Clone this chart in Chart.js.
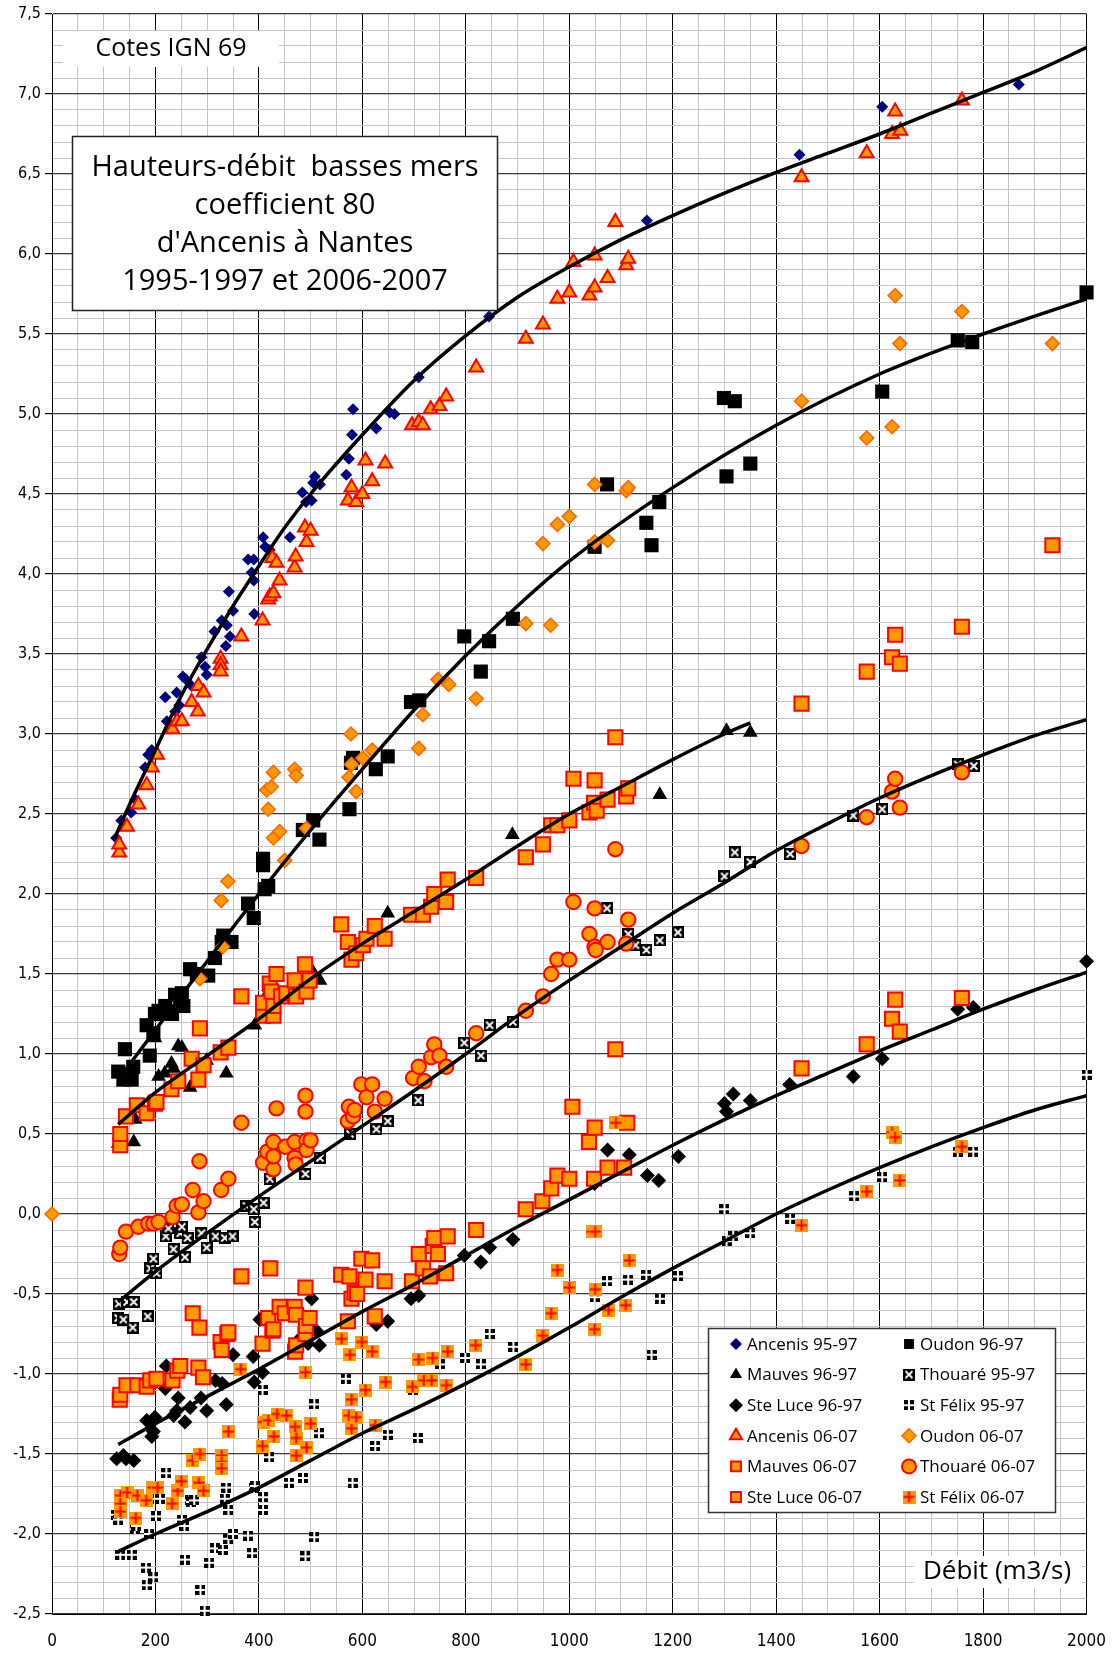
<!DOCTYPE html>
<html>
<head>
<meta charset="utf-8">
<script src="https://cdn.jsdelivr.net/npm/chart.js@4.4.1/dist/chart.umd.min.js"></script>
<style>
  html, body { margin: 0; padding: 0; background: #fff; }
  #chart { display: block; }
</style>
</head>
<body>
<canvas id="chart" width="1117" height="1655" style="width:1117px;height:1655px"></canvas>
<script>
// Axis ranges / ticks
const xMin = 0, xMax = 2000, xStep = 50, xLabelEvery = 200;
const yMin = -2.5, yMax = 7.5, yStep = 0.1, yLabelEvery = 0.5;

// Texts
const cornerNote = "Cotes IGN 69";
const titleLines = ["Hauteurs-débit  basses mers", "coefficient 80", "d'Ancenis à Nantes", "1995-1997 et 2006-2007"];
const xTitle = "Débit (m3/s)";

// Measured points [débit, cote]
const ancenis9597 = [[124,2.35],[134,2.46],[153,2.51],[161,2.59],[180,2.79],[186,2.87],[193,2.90],[219,3.23],[222,3.08],[238,3.14],[241,3.26],[246,3.18],[253,3.36],[259,3.34],[270,3.30],[289,3.48],[296,3.42],[299,3.37],[314,3.64],[328,3.71],[336,3.55],[338,3.68],[342,3.89],[344,3.61],[350,3.77],[379,4.09],[386,4.01],[390,4.09],[390,3.96],[391,3.75],[408,4.23],[412,4.17],[421,4.15],[460,4.23],[484,4.51],[491,4.45],[502,4.46],[505,4.57],[508,4.61],[518,4.56],[569,4.62],[574,4.72],[580,4.87],[582,5.03],[627,4.91],[653,5.01],[662,5.00],[709,5.23],[845,5.61],[1150,6.21],[1445,6.62],[1605,6.92],[1869,7.06]];
const oudon9697 = [[128,0.89],[138,0.84],[141,1.03],[154,0.84],[157,0.92],[183,1.18],[189,0.99],[196,1.13],[199,1.25],[206,1.27],[219,1.30],[232,1.25],[238,1.37],[248,1.34],[251,1.38],[254,1.30],[267,1.53],[280,1.50],[302,1.49],[315,1.60],[328,1.70],[331,1.74],[347,1.70],[379,1.94],[390,1.85],[408,2.22],[408,2.18],[411,2.03],[418,2.05],[485,2.40],[505,2.46],[517,2.34],[575,2.53],[578,2.82],[582,2.85],[626,2.78],[649,2.86],[694,3.20],[710,3.21],[797,3.61],[829,3.39],[845,3.58],[891,3.72],[1049,4.17],[1073,4.56],[1149,4.32],[1159,4.18],[1174,4.45],[1299,5.10],[1304,4.61],[1320,5.08],[1350,4.69],[1605,5.14],[1751,5.46],[1779,5.45],[2000,5.76]];
const mauves9697 = [[128,0.44],[158,0.45],[161,0.59],[199,1.10],[206,0.86],[218,0.88],[231,0.94],[235,0.91],[244,1.05],[251,1.04],[267,0.79],[299,0.96],[337,0.88],[392,1.18],[415,1.37],[505,1.51],[518,1.46],[649,1.88],[890,2.37],[1175,2.62],[1304,3.02],[1350,3.01]];
const thouare9597 = [[128,-0.65],[129,-0.56],[138,-0.66],[145,-0.55],[156,-0.71],[158,-0.55],[185,-0.64],[190,-0.34],[196,-0.28],[202,-0.37],[220,-0.14],[225,-0.09],[235,-0.22],[248,-0.12],[251,-0.08],[257,-0.27],[262,-0.15],[289,-0.12],[299,-0.21],[316,-0.14],[334,-0.15],[349,-0.14],[376,0.05],[390,0.03],[392,-0.05],[409,0.07],[421,0.22],[490,0.25],[518,0.35],[576,0.50],[627,0.53],[649,0.58],[708,0.71],[797,1.07],[829,0.99],[846,1.18],[891,1.20],[1073,1.91],[1114,1.75],[1128,1.68],[1149,1.65],[1175,1.71],[1210,1.76],[1300,2.11],[1320,2.26],[1350,2.20],[1427,2.25],[1549,2.49],[1605,2.53],[1751,2.81],[1782,2.80]];
const steLuce9697 = [[125,-1.53],[138,-1.51],[143,-1.53],[158,-1.54],[183,-1.29],[190,-1.31],[193,-1.39],[196,-1.36],[199,-1.27],[219,-1.09],[221,-0.95],[235,-1.26],[241,-1.23],[244,-1.15],[257,-1.30],[267,-1.21],[288,-1.15],[299,-1.23],[316,-1.04],[329,-1.06],[337,-1.19],[350,-0.88],[389,-0.89],[391,-1.05],[402,-0.66],[407,-0.99],[479,-0.78],[495,-0.81],[502,-0.53],[511,-0.73],[517,-0.82],[627,-0.69],[649,-0.67],[694,-0.53],[709,-0.51],[797,-0.26],[829,-0.30],[846,-0.21],[891,-0.16],[1049,0.19],[1074,0.40],[1116,0.37],[1151,0.24],[1173,0.21],[1211,0.36],[1300,0.69],[1304,0.64],[1317,0.75],[1350,0.71],[1426,0.81],[1549,0.86],[1605,0.97],[1751,1.28],[1781,1.29],[2000,1.58]];
const stFelix9597 = [[124,-1.88],[128,-1.91],[132,-2.13],[154,-2.13],[160,-1.97],[163,-1.95],[182,-2.21],[183,-2.32],[188,-2.00],[196,-2.27],[199,-1.78],[201,-1.89],[209,-1.78],[221,-1.62],[251,-1.91],[256,-1.95],[257,-2.16],[266,-1.79],[268,-1.80],[275,-1.79],[287,-2.35],[295,-2.48],[296,-1.73],[304,-2.18],[315,-2.09],[330,-2.10],[334,-1.78],[337,-1.71],[341,-1.85],[341,-2.03],[350,-2.00],[379,-2.01],[387,-2.12],[390,-1.71],[392,-1.70],[407,-1.10],[408,-1.85],[408,-1.77],[420,-1.52],[458,-1.68],[485,-1.65],[490,-2.14],[507,-1.19],[507,-2.02],[516,-1.37],[568,-1.03],[581,-1.68],[625,-1.45],[649,-1.38],[698,-1.10],[707,-1.40],[750,-0.94],[799,-0.90],[829,-0.94],[846,-0.75],[892,-0.83],[1049,-0.52],[1073,-0.42],[1114,-0.41],[1149,-0.38],[1159,-0.88],[1175,-0.53],[1210,-0.39],[1300,0.03],[1304,-0.17],[1317,-0.14],[1350,-0.12],[1427,-0.03],[1551,0.11],[1605,0.23],[1751,0.39],[1781,0.39],[2000,0.87]];
const ancenis0607 = [[130,2.26],[130,2.31],[145,2.42],[167,2.56],[183,2.68],[193,2.79],[203,2.87],[233,3.03],[242,3.08],[251,3.08],[270,3.20],[282,3.14],[283,3.30],[293,3.26],[326,3.47],[326,3.43],[326,3.39],[366,3.61],[407,3.71],[418,3.84],[421,3.86],[428,3.88],[426,4.10],[434,4.07],[440,3.96],[469,4.04],[471,4.11],[489,4.29],[492,4.20],[500,4.27],[572,4.46],[579,4.54],[588,4.45],[600,4.50],[606,4.71],[619,4.58],[644,4.69],[696,4.93],[709,4.95],[717,4.93],[732,5.03],[749,5.05],[762,5.11],[820,5.29],[916,5.47],[949,5.56],[977,5.72],[1000,5.76],[1008,5.95],[1039,5.74],[1049,5.79],[1049,5.99],[1074,5.85],[1089,6.20],[1110,5.93],[1114,5.97],[1449,6.48],[1575,6.63],[1624,6.75],[1630,6.89],[1640,6.77],[1759,6.96]];
const oudon0607 = [[0,0.0],[286,1.47],[327,1.96],[330,1.67],[340,2.08],[415,2.65],[418,2.53],[424,2.67],[428,2.76],[428,2.35],[440,2.39],[450,2.21],[469,2.78],[472,2.74],[492,2.41],[574,2.73],[578,3.00],[579,2.81],[588,2.64],[601,2.85],[619,2.90],[709,2.91],[717,3.12],[746,3.34],[767,3.31],[820,3.22],[916,3.69],[949,4.19],[964,3.68],[977,4.31],[1000,4.36],[1049,4.20],[1049,4.56],[1074,4.21],[1110,4.52],[1114,4.54],[1449,5.08],[1575,4.85],[1624,4.92],[1630,5.74],[1639,5.44],[1759,5.64],[1934,5.44]];
const mauves0607 = [[132,0.43],[132,0.50],[143,0.61],[164,0.68],[183,0.63],[199,0.69],[202,0.70],[231,0.78],[244,0.83],[270,0.97],[283,0.84],[286,1.16],[293,0.93],[326,1.01],[341,1.04],[366,1.36],[408,1.24],[408,1.32],[421,1.44],[424,1.39],[428,1.24],[428,1.30],[434,1.50],[443,1.36],[453,1.38],[469,1.46],[472,1.36],[489,1.56],[492,1.39],[498,1.46],[559,1.81],[572,1.70],[579,1.59],[588,1.63],[601,1.68],[608,1.72],[624,1.80],[643,1.72],[694,1.87],[717,1.87],[733,1.92],[739,2.00],[762,1.95],[765,2.09],[820,2.10],[916,2.23],[949,2.31],[965,2.43],[977,2.43],[1000,2.46],[1008,2.72],[1039,2.51],[1048,2.57],[1049,2.71],[1053,2.52],[1074,2.59],[1089,2.98],[1110,2.61],[1114,2.66],[1449,3.19],[1575,3.39],[1624,3.48],[1630,3.62],[1639,3.44],[1759,3.67],[1934,4.18]];
const thouare0607 = [[130,-0.25],[132,-0.21],[143,-0.11],[167,-0.08],[186,-0.06],[196,-0.06],[206,-0.05],[233,-0.02],[241,0.05],[251,0.06],[272,0.15],[283,0.01],[285,0.33],[293,0.08],[327,0.15],[341,0.22],[366,0.57],[408,0.32],[416,0.39],[428,0.28],[428,0.36],[428,0.45],[434,0.66],[451,0.42],[469,0.45],[469,0.35],[471,0.31],[490,0.74],[490,0.64],[492,0.46],[492,0.40],[500,0.46],[572,0.58],[574,0.67],[582,0.61],[585,0.65],[598,0.81],[608,0.73],[619,0.81],[624,0.64],[643,0.72],[698,0.85],[709,0.92],[720,0.83],[733,0.98],[739,1.06],[749,0.99],[762,0.92],[820,1.13],[916,1.27],[949,1.36],[965,1.50],[977,1.59],[1000,1.59],[1008,1.95],[1039,1.75],[1049,1.91],[1049,1.67],[1051,1.65],[1074,1.70],[1089,2.28],[1110,1.69],[1114,1.84],[1449,2.30],[1575,2.48],[1624,2.64],[1630,2.72],[1639,2.54],[1759,2.76]];
const steLuce0607 = [[131,-1.16],[132,-1.13],[144,-1.07],[165,-1.07],[183,-1.08],[190,-1.04],[202,-1.03],[233,-1.04],[242,-0.98],[248,-0.95],[272,-0.62],[283,-0.96],[285,-0.71],[292,-1.02],[326,-0.80],[328,-0.85],[339,-0.75],[341,-0.74],[366,-0.39],[407,-0.81],[418,-0.65],[422,-0.34],[426,-0.73],[428,-0.72],[440,-0.58],[450,-0.62],[469,-0.58],[470,-0.86],[472,-0.63],[472,-0.82],[490,-0.46],[490,-0.75],[491,-0.70],[498,-0.65],[559,-0.38],[572,-0.67],[575,-0.39],[579,-0.53],[585,-0.49],[590,-0.50],[598,-0.28],[606,-0.41],[619,-0.29],[624,-0.64],[643,-0.42],[696,-0.42],[709,-0.25],[717,-0.34],[731,-0.39],[736,-0.20],[739,-0.15],[746,-0.25],[762,-0.37],[765,-0.14],[820,-0.10],[916,0.03],[948,0.08],[965,0.16],[977,0.24],[1000,0.22],[1006,0.67],[1038,0.45],[1048,0.22],[1049,0.54],[1074,0.29],[1089,1.03],[1106,0.29],[1112,0.57],[1449,0.91],[1575,1.06],[1624,1.22],[1630,1.34],[1639,1.14],[1759,1.35]];
const stFelix0607 = [[132,-1.76],[132,-1.81],[132,-1.86],[145,-1.74],[162,-1.90],[165,-1.76],[182,-1.79],[195,-1.71],[204,-1.71],[232,-1.81],[243,-1.73],[250,-1.67],[272,-1.54],[284,-1.68],[286,-1.50],[293,-1.73],[328,-1.51],[328,-1.55],[328,-1.59],[341,-1.36],[365,-0.97],[407,-1.45],[409,-1.30],[418,-1.29],[429,-1.39],[435,-1.25],[453,-1.26],[470,-1.33],[472,-1.40],[472,-1.51],[490,-0.99],[492,-1.46],[500,-1.31],[560,-0.78],[574,-1.26],[576,-0.88],[579,-1.16],[579,-1.34],[588,-1.27],[599,-0.80],[606,-1.10],[619,-0.86],[625,-1.32],[645,-1.05],[697,-1.08],[709,-0.91],[719,-1.04],[734,-1.04],[736,-0.90],[762,-1.07],[765,-0.86],[819,-0.82],[916,-0.94],[949,-0.76],[965,-0.62],[977,-0.35],[1000,-0.46],[1044,-0.11],[1049,-0.72],[1050,-0.11],[1050,-0.47],[1076,-0.60],[1090,0.57],[1109,-0.57],[1116,-0.29],[1449,-0.07],[1575,0.14],[1624,0.51],[1630,0.48],[1639,0.21],[1759,0.42]];

// Fitted curves [débit, cote]
const curveAncenis = [[120,2.34],[150,2.56],[200,2.90],[250,3.24],[300,3.53],[350,3.80],[400,4.05],[450,4.29],[500,4.50],[600,4.87],[700,5.21],[800,5.49],[900,5.73],[1000,5.92],[1100,6.09],[1200,6.24],[1300,6.38],[1400,6.51],[1500,6.63],[1600,6.75],[1700,6.88],[1800,7.01],[1900,7.14],[2000,7.29]];
const curveOudon = [[130,0.85],[200,1.15],[300,1.58],[400,2.00],[500,2.40],[600,2.78],[700,3.15],[800,3.49],[900,3.80],[1000,4.08],[1200,4.54],[1400,4.93],[1600,5.25],[1800,5.50],[2000,5.72]];
const curveMauves = [[128,0.56],[200,0.76],[300,0.99],[400,1.22],[500,1.47],[600,1.69],[700,1.89],[800,2.09],[900,2.30],[1000,2.50],[1100,2.67],[1200,2.84],[1300,3.00],[1350,3.07]];
const curveThouare = [[128,-0.55],[200,-0.36],[300,-0.12],[400,0.11],[500,0.33],[600,0.55],[700,0.77],[800,1.00],[900,1.24],[1000,1.46],[1100,1.67],[1200,1.88],[1300,2.07],[1400,2.27],[1500,2.44],[1600,2.60],[1700,2.74],[1800,2.87],[1900,2.99],[2000,3.09]];
const curveSteLuce = [[128,-1.44],[200,-1.31],[300,-1.14],[400,-0.97],[500,-0.79],[600,-0.61],[700,-0.44],[800,-0.26],[900,-0.08],[1000,0.09],[1100,0.26],[1200,0.43],[1300,0.59],[1400,0.74],[1500,0.88],[1600,1.02],[1700,1.15],[1800,1.28],[1900,1.40],[2000,1.51]];
const curveStFelix = [[128,-2.11],[200,-2.00],[300,-1.86],[400,-1.71],[500,-1.54],[600,-1.37],[700,-1.22],[800,-1.06],[900,-0.89],[1000,-0.71],[1100,-0.52],[1200,-0.34],[1300,-0.17],[1400,0.0],[1500,0.15],[1600,0.29],[1700,0.42],[1800,0.54],[1900,0.65],[2000,0.74]];

// Marker images
function makeMarker(size, paint) {
  const c = document.createElement("canvas");
  c.width = size; c.height = size;
  paint(c.getContext("2d"), size);
  return c;
}
const markThouare = makeMarker(12, (g, s) => {
  g.fillStyle = "#000"; g.fillRect(0, 0, s, s);
  g.strokeStyle = "#fff"; g.lineWidth = 1.8;
  g.beginPath(); g.moveTo(2.5, 2.5); g.lineTo(s - 2.5, s - 2.5); g.moveTo(s - 2.5, 2.5); g.lineTo(2.5, s - 2.5); g.stroke();
});
const markFelix = makeMarker(10, (g, s) => {
  g.fillStyle = "#000"; g.fillRect(0, 0, s, s);
  g.fillStyle = "#fff"; g.fillRect(4, 0, 2, s); g.fillRect(0, 4, s, 2);
});
const markFelix2 = makeMarker(13, (g, s) => {
  g.fillStyle = "#FF9900"; g.fillRect(0, 0, s, s);
  g.fillStyle = "#FF0000"; g.fillRect(5.5, 1, 2, s - 2); g.fillRect(1, 5.5, s - 2, 2);
});

const ORANGE = "#FF9900", RED = "#FF0000";
const series = [
  { label: "Ancenis 95-97", data: ancenis9597, pointStyle: "rectRot", radius: 6, bg: "#000080", border: "#000080", bw: 0 },
  { label: "Oudon 96-97", data: oudon9697, pointStyle: "rect", radius: 10, bg: "#000", border: "#000", bw: 0 },
  { label: "Mauves 96-97", data: mauves9697, pointStyle: "triangle", radius: 8.5, bg: "#000", border: "#000", bw: 0 },
  { label: "Thouaré 95-97", data: thouare9597, pointStyle: markThouare, radius: 6, bg: "#000", border: "#000", bw: 0 },
  { label: "Ste Luce 96-97", data: steLuce9697, pointStyle: "rectRot", radius: 7.5, bg: "#000", border: "#000", bw: 0 },
  { label: "St Félix 95-97", data: stFelix9597, pointStyle: markFelix, radius: 5, bg: "#000", border: "#000", bw: 0 },
  { label: "Ancenis 06-07", data: ancenis0607, pointStyle: "triangle", radius: 8, bg: ORANGE, border: RED, bw: 2 },
  { label: "Oudon 06-07", data: oudon0607, pointStyle: "rectRot", radius: 7, bg: ORANGE, border: "#FF6600", bw: 1.5 },
  { label: "Mauves 06-07", data: mauves0607, pointStyle: "rect", radius: 10, bg: ORANGE, border: RED, bw: 2 },
  { label: "Thouaré 06-07", data: thouare0607, pointStyle: "circle", radius: 7.2, bg: ORANGE, border: RED, bw: 2 },
  { label: "Ste Luce 06-07", data: steLuce0607, pointStyle: "rect", radius: 10, bg: ORANGE, border: RED, bw: 2 },
  { label: "St Félix 06-07", data: stFelix0607, pointStyle: markFelix2, radius: 6.5, bg: ORANGE, border: RED, bw: 0 },
];
const curves = [curveAncenis, curveOudon, curveMauves, curveThouare, curveSteLuce, curveStFelix];

// legend layout: [series index, column, row]
const legendSlots = [[0,0,0],[1,1,0],[2,0,1],[3,1,1],[4,0,2],[5,1,2],[6,0,3],[7,1,3],[8,0,4],[9,1,4],[10,0,5],[11,1,5]];

const toXY = arr => arr.map(p => ({ x: p[0], y: p[1] }));

const datasets = [];
series.forEach((s, i) => {
  datasets.push({
    label: s.label,
    data: toXY(s.data),
    pointStyle: s.pointStyle,
    pointRadius: s.radius,
    backgroundColor: s.bg,
    borderColor: s.border,
    borderWidth: s.bw,
    order: 30 - i,
    clip: false,
  });
});
curves.forEach(c => {
  datasets.push({
    label: "",
    data: toXY(c),
    showLine: true,
    pointRadius: 0,
    borderColor: "#000",
    borderWidth: 3.5,
    cubicInterpolationMode: "monotone",
    fill: false,
    order: 1,
  });
});

const isMultiple = (v, step) => Math.abs(v / step - Math.round(v / step)) < 1e-6;
const tickFont = "'Liberation Sans Narrow', 'DejaVu Sans Condensed', 'Liberation Sans', sans-serif";
const textFont = "'Open Sans', 'Liberation Sans', sans-serif";

const overlays = {
  id: "overlays",
  afterDraw(chart) {
    const ctx = chart.ctx;
    ctx.save();
    ctx.textAlign = "center";
    ctx.textBaseline = "middle";

    // corner note
    ctx.fillStyle = "#fff";
    ctx.fillRect(63, 31, 216, 36);
    ctx.fillStyle = "#000";
    ctx.font = "500 25px " + textFont;
    ctx.fillText(cornerNote, 171, 49);

    // title box
    ctx.fillStyle = "#fff";
    ctx.fillRect(72, 136, 426, 175);
    ctx.strokeStyle = "#222";
    ctx.lineWidth = 1.5;
    ctx.strokeRect(72.5, 136.5, 425, 174);
    ctx.fillStyle = "#000";
    ctx.font = "500 29px " + textFont;
    titleLines.forEach((t, i) => ctx.fillText(t, 285, 168 + i * 38));

    // axis title
    ctx.fillStyle = "#fff";
    ctx.fillRect(914, 1556, 168, 32);
    ctx.fillStyle = "#000";
    ctx.font = "500 26px " + textFont;
    ctx.fillText(xTitle, 997, 1572);

    // legend
    ctx.fillStyle = "#fff";
    ctx.fillRect(708, 1328, 348, 185);
    ctx.strokeStyle = "#333";
    ctx.lineWidth = 1.5;
    ctx.strokeRect(708.5, 1328.5, 347, 184);
    ctx.font = "500 17px " + textFont;
    ctx.textAlign = "left";
    legendSlots.forEach(([si, col, row]) => {
      const s = series[si];
      const mx = col ? 909 : 736;
      const my = 1344 + row * 30.6;
      const r = typeof s.pointStyle === "string" ? Math.min(s.radius, 7) : s.radius;
      ctx.fillStyle = s.bg;
      ctx.strokeStyle = s.border;
      ctx.lineWidth = s.bw;
      Chart.helpers.drawPoint(ctx, { pointStyle: s.pointStyle, radius: r, rotation: 0, borderWidth: s.bw }, mx, my);
      ctx.fillStyle = "#000";
      ctx.fillText(s.label, mx + 11, my + 1);
    });
    ctx.restore();
  }
};

new Chart(document.getElementById("chart"), {
  type: "scatter",
  data: { datasets },
  plugins: [overlays],
  options: {
    responsive: false,
    animation: false,
    events: [],
    layout: { padding: { top: 14, right: 28.5, bottom: 0, left: 0 } },
    plugins: { legend: { display: false }, tooltip: { enabled: false } },
    scales: {
      x: {
        type: "linear",
        min: xMin, max: xMax,
        afterFit: s => { s.height = 41; },
        border: { color: "#000", width: 1 },
        grid: {
          color: c => isMultiple(c.tick.value, xLabelEvery) ? "#000" : "#c4c4c4",
          lineWidth: 1,
          tickLength: 6,
          tickColor: "rgba(0,0,0,0)",
        },
        ticks: {
          stepSize: xStep,
          autoSkip: false,
          maxRotation: 0,
          padding: 11,
          color: "#000",
          font: { family: tickFont, size: 17 },
          callback: v => isMultiple(v, xLabelEvery) ? String(Math.round(v)) : "",
        },
      },
      y: {
        type: "linear",
        min: yMin, max: yMax,
        afterFit: s => { s.width = 52; },
        border: { color: "#000", width: 1 },
        grid: {
          color: c => isMultiple(c.tick.value, yLabelEvery) ? "#3a3a3a" : "#c4c4c4",
          lineWidth: c => isMultiple(c.tick.value, yLabelEvery) ? 1.2 : 1,
          tickLength: 7,
          tickColor: c => isMultiple(c.tick.value, yLabelEvery) ? "#000" : "rgba(0,0,0,0)",
        },
        ticks: {
          stepSize: yStep,
          autoSkip: false,
          padding: 4,
          color: "#000",
          font: { family: tickFont, size: 16 },
          callback: v => isMultiple(v, yLabelEvery) ? v.toFixed(1).replace(".", ",") : "",
        },
      },
    },
  },
});
</script>
</body>
</html>
